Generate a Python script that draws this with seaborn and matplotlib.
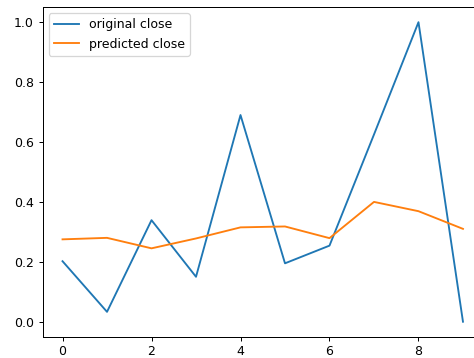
import matplotlib
matplotlib.use("Agg")
import matplotlib.pyplot as plt
import seaborn as sns
import numpy as np

x = [0, 1, 2, 3, 4, 5, 6, 7, 8, 9]
original_close = [0.202, 0.033, 0.339, 0.150, 0.690, 0.195, 0.254, 0.625, 1.0, 0.0]
predicted_close = [0.275, 0.280, 0.245, 0.278, 0.315, 0.318, 0.279, 0.400, 0.369, 0.310]

plt.rcParams['font.family'] = ['DejaVu Sans']
DPI = 90
fig = plt.figure(figsize=(474/DPI, 358/DPI), dpi=DPI)
ax = fig.add_axes([42.5/474, (358-336.7)/358, (483-42.5)/474, (336.7-7.2)/358])
sns.lineplot(x=x, y=original_close, ax=ax, color='#1f77b4', label='original close')
sns.lineplot(x=x, y=predicted_close, ax=ax, color='#ff7f0e', label='predicted close')
ax.set_xlim(-0.45, 9.45)
ax.set_ylim(-0.05, 1.05)
ax.set_xticks([0, 2, 4, 6, 8])
ax.set_yticks([0.0, 0.2, 0.4, 0.6, 0.8, 1.0])
ax.legend(loc='upper left')
fig.savefig('out.png', dpi=DPI)
